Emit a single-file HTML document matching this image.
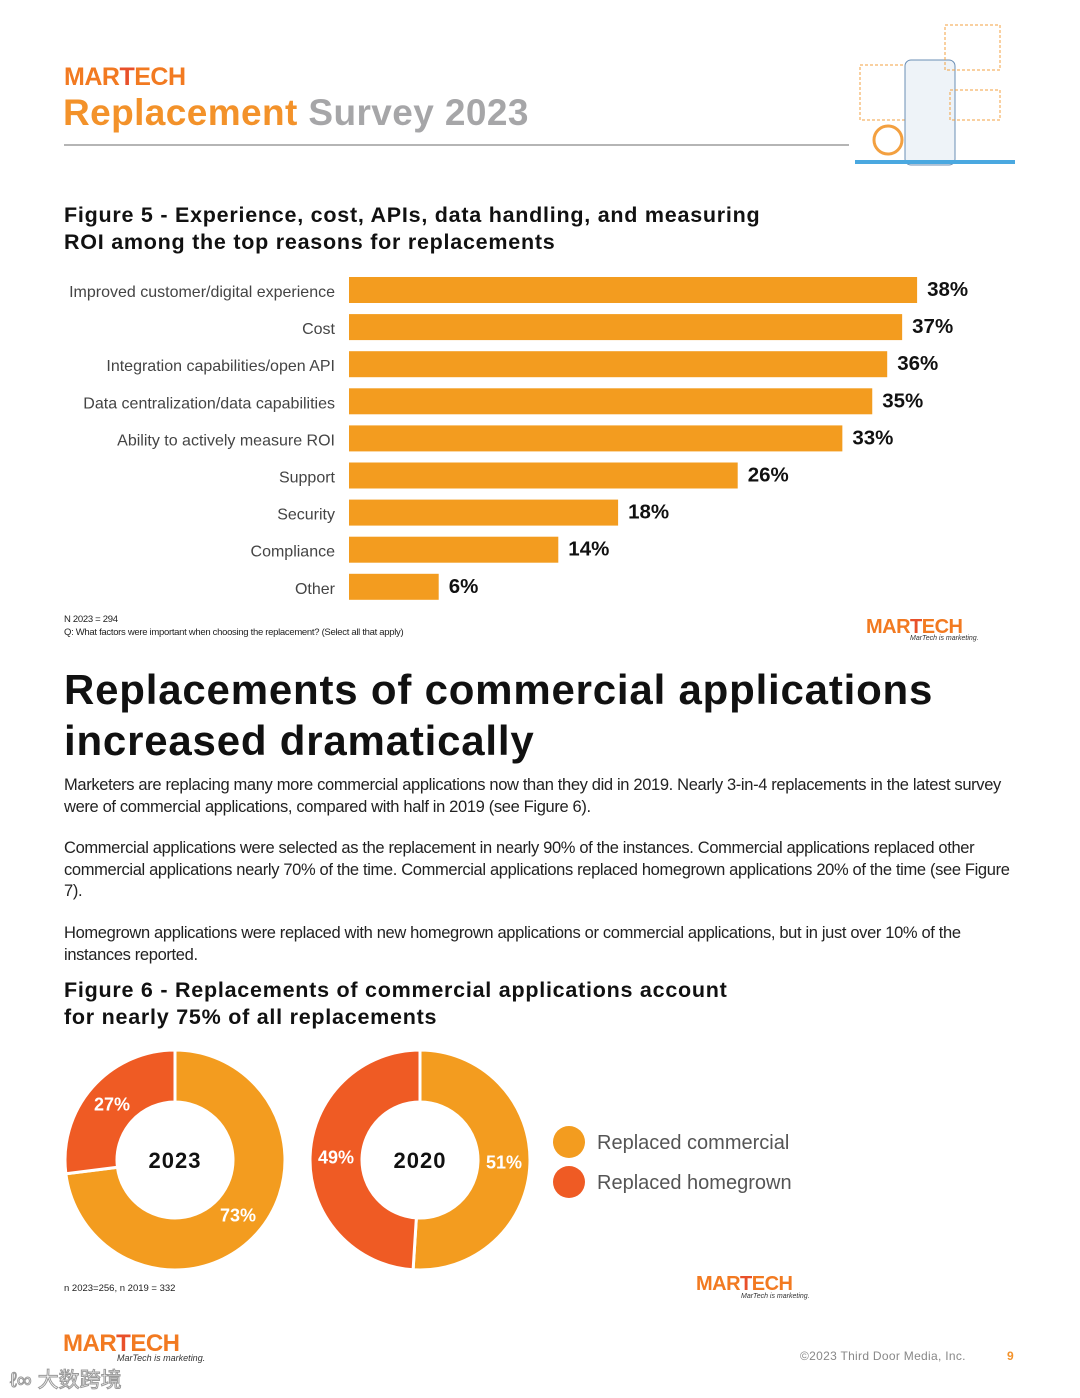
<!DOCTYPE html>
<html><head><meta charset="utf-8"><style>
body{margin:0;width:1080px;height:1398px;background:#fff;position:relative;font-family:"Liberation Sans",sans-serif;overflow:hidden}
.a{position:absolute;white-space:nowrap}
.logo{font-weight:bold;color:#f27a21;letter-spacing:-0.5px}
.logo b{color:#e8502a}
.p{font-size:16.5px;color:#222;line-height:21.5px;white-space:normal;width:960px;letter-spacing:-0.35px}
</style></head><body>
<div class="a logo" style="left:64px;top:63px;font-size:25px">MAR<b>T</b>ECH</div>
<div class="a" style="left:63px;top:92px;font-size:37px;font-weight:bold;letter-spacing:0.4px"><span style="color:#f3922a">Replacement</span> <span style="color:#a6a6a8">Survey 2023</span></div>
<div class="a" style="left:64px;top:144px;width:785px;height:2px;background:#b5b5b5"></div>
<svg class="a" style="left:850px;top:20px" width="170" height="150">
<rect x="10" y="45" width="50" height="55" fill="none" stroke="#f3a040" stroke-dasharray="3 2"/>
<rect x="55" y="40" width="50" height="105" rx="6" fill="#eef3f8" stroke="#6b8fb5"/>
<rect x="95" y="5" width="55" height="45" fill="none" stroke="#f3a040" stroke-dasharray="3 2"/>
<rect x="100" y="70" width="50" height="30" fill="none" stroke="#f3a040" stroke-dasharray="3 2"/>
<circle cx="38" cy="120" r="14" fill="none" stroke="#f3a040" stroke-width="3"/>
<rect x="5" y="140" width="160" height="4" fill="#4aa8e0"/>
</svg>
<div class="a" style="left:64px;top:202px;font-size:21.5px;font-weight:bold;line-height:27px;color:#111;letter-spacing:0.75px">Figure 5 - Experience, cost, APIs, data handling, and measuring<br>ROI among the top reasons for replacements</div>
<svg class="a" id="bars" style="left:0;top:270px" width="1080" height="340"></svg>
<div class="a" style="left:64px;top:613px;font-size:9.5px;color:#222;line-height:13px;letter-spacing:-0.3px">N 2023 = 294<br>Q: What factors were important when choosing the replacement? (Select all that apply)</div>
<div class="a logo" style="left:866px;top:616px;font-size:20px">MAR<b>T</b>ECH</div>
<div class="a" style="left:910px;top:635px;font-size:7px;font-style:italic;color:#333">MarTech is marketing.</div>
<div class="a" style="left:64px;top:664px;font-size:42px;font-weight:bold;line-height:51px;color:#111;letter-spacing:0.8px">Replacements of commercial applications<br>increased dramatically</div>
<div class="a p" style="left:64px;top:775px">Marketers are replacing many more commercial applications now than they did in 2019. Nearly 3-in-4 replacements in the latest survey were of commercial applications, compared with half in 2019 (see Figure 6).</div>
<div class="a p" style="left:64px;top:838px">Commercial applications were selected as the replacement in nearly 90% of the instances. Commercial applications replaced other commercial applications nearly 70% of the time. Commercial applications replaced homegrown applications 20% of the time (see Figure 7).</div>
<div class="a p" style="left:64px;top:923px">Homegrown applications were replaced with new homegrown applications or commercial applications, but in just over 10% of the instances reported.</div>
<div class="a" style="left:64px;top:977px;font-size:21.5px;font-weight:bold;line-height:27px;color:#111;letter-spacing:0.75px">Figure 6 - Replacements of commercial applications account<br>for nearly 75% of all replacements</div>
<svg class="a" id="donuts" style="left:0;top:1040px" width="1080" height="240"></svg>
<div class="a" style="left:64px;top:1283px;font-size:9.5px;color:#222">n 2023=256, n 2019 = 332</div>
<div class="a logo" style="left:696px;top:1273px;font-size:20px">MAR<b>T</b>ECH</div>
<div class="a" style="left:741px;top:1293px;font-size:7px;font-style:italic;color:#333">MarTech is marketing.</div>
<div class="a logo" style="left:63px;top:1330px;font-size:24px">MAR<b>T</b>ECH</div>
<div class="a" style="left:117px;top:1353px;font-size:9px;font-style:italic;color:#333">MarTech is marketing.</div>
<div class="a" style="left:800px;top:1349px;font-size:12px;color:#888;letter-spacing:0.3px">©2023 Third Door Media, Inc.</div>
<div class="a" style="left:1007px;top:1349px;font-size:12px;color:#f3922a;font-weight:bold">9</div>
<div class="a" style="left:10px;top:1364px;font-size:21px;color:#fff;-webkit-text-stroke:1px #999;font-family:'Liberation Sans','Noto Sans CJK SC',sans-serif">ℓ∞ 大数跨境</div>
<script>
const categories=["Improved customer/digital experience","Cost","Integration capabilities/open API","Data centralization/data capabilities","Ability to actively measure ROI","Support","Security","Compliance","Other"];
const values=[38,37,36,35,33,26,18,14,6];
const donutYears=["2023","2020"];
const commercialShare=[73,51];
const homegrownShare=[27,49];
const NS="http://www.w3.org/2000/svg";
function mk(p,t,a){const e=document.createElementNS(NS,t);for(const k in a)e.setAttribute(k,a[k]);p.appendChild(e);return e;}
const bars=document.getElementById('bars');
const x0=349,pxPer=14.95,y0=7,step=37.1,bh=26;
const xs=v=>v*pxPer;
categories.forEach((c,i)=>{
 const y=y0+i*step;
 const r=mk(bars,'rect',{x:x0,y:y,width:xs(values[i]),height:bh,fill:'#f39c1f'});
 
 
 const l=mk(bars,'text',{x:335,y:y+bh/2+7,'text-anchor':'end','font-size':16,fill:'#444','font-family':'Liberation Sans, sans-serif'});
 l.textContent=c;
 
 
 const v=mk(bars,'text',{x:x0+xs(values[i])+10,y:y+bh/2+6,'font-size':20.5,'font-weight':'bold',fill:'#111','font-family':'Liberation Sans, sans-serif'});
 v.textContent=values[i]+'%';
 
 
});
const dn=document.getElementById('donuts');
const centers=[175,420],cy=120,R=110,r0=58;
function arc(cx,a0,a1,col){
 const p=(a,rad)=>[cx+rad*Math.sin(a),cy-rad*Math.cos(a)];
 const lg=(a1-a0)>Math.PI?1:0;
 const [x1,y1]=p(a0,R),[x2,y2]=p(a1,R),[x3,y3]=p(a1,r0),[x4,y4]=p(a0,r0);
 return mk(dn,'path',{d:`M${x1},${y1}A${R},${R} 0 ${lg} 1 ${x2},${y2}L${x3},${y3}A${r0},${r0} 0 ${lg} 0 ${x4},${y4}Z`,fill:col,stroke:'#fff','stroke-width':3});
}
donutYears.forEach((yr,i)=>{
 const cx=centers[i];
 const aC=commercialShare[i]/100*2*Math.PI;
 const s1=arc(cx,0,aC,'#f39c1f');
 
 
 const s2=arc(cx,aC,2*Math.PI,'#ef5b24');
 
 
 const rm=(R+r0)/2;
 [[commercialShare[i],aC/2],[homegrownShare[i],aC+(2*Math.PI-aC)/2]].forEach(([v,a])=>{
  const t=mk(dn,'text',{x:cx+rm*Math.sin(a),y:cy-rm*Math.cos(a)+6,'text-anchor':'middle','font-size':18,'font-weight':'bold',fill:'#fff','font-family':'Liberation Sans, sans-serif'});
  t.textContent=v+'%';
  
  
 });
 const c=mk(dn,'text',{x:cx,y:cy+8,'text-anchor':'middle','font-size':22,'font-weight':'bold',fill:'#111','font-family':'Liberation Sans, sans-serif','letter-spacing':1});
 c.textContent=yr;
 
 
});
[["Replaced commercial",'#f39c1f',102],["Replaced homegrown",'#ef5b24',142]].forEach(([t,col,y])=>{
 const d=mk(dn,'circle',{cx:569,cy:y,r:16,fill:col});
 
 
 const tx=mk(dn,'text',{x:597,y:y+7,'font-size':20,fill:'#555','font-family':'Liberation Sans, sans-serif'});
 tx.textContent=t;
 
 
});
</script>
</body></html>
